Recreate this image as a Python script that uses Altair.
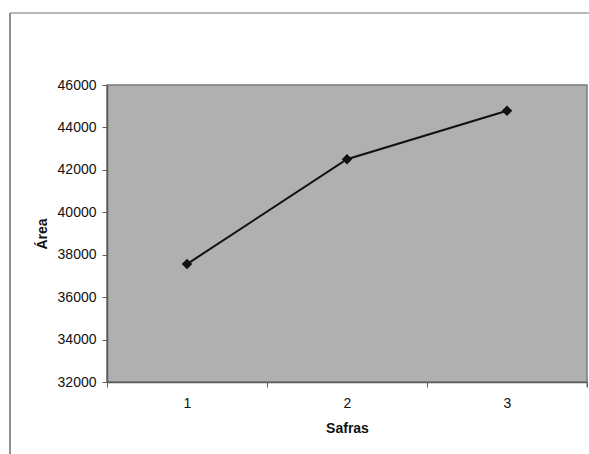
import altair as alt
import pandas as pd

safras = [1, 2, 3]
area = [37560, 42500, 44790]
x_tick_values = [0.5, 1, 1.5, 2, 2.5, 3, 3.5]
y_tick_values = [32000, 34000, 36000, 38000, 40000, 42000, 44000, 46000]

df = pd.DataFrame({"Safras": safras, "Area": area})

PLOT_L, PLOT_T = 107, 85
W, H = 480, 297

x_enc = alt.X(
    "Safras:Q",
    scale=alt.Scale(domain=[0.5, 3.5], nice=False, zero=False),
    axis=alt.Axis(
        values=x_tick_values,
        title="Safras",
        labelExpr="datum.value % 1 == 0 ? '' + datum.value : ''",
        tickOpacity={"condition": {"test": "datum.value % 1 == 0", "value": 0}, "value": 1},
        grid=False,
        tickSize=5,
        labelPadding=9,
        titlePadding=11,
    ),
)
y_enc = alt.Y(
    "Area:Q",
    scale=alt.Scale(domain=[32000, 46000], nice=False, zero=False),
    axis=alt.Axis(
        values=y_tick_values,
        format="d",
        title="Área",
        grid=False,
        tickSize=5,
        labelPadding=6,
        titlePadding=8,
    ),
)

line = alt.Chart(df).mark_line(color="#111111", strokeWidth=2).encode(x=x_enc, y=y_enc)
pts = alt.Chart(df).mark_point(shape="diamond", filled=True, color="#111111", size=110, opacity=1).encode(
    x="Safras:Q", y="Area:Q"
)

frame_df = pd.DataFrame({"k": [0]})
top_line = alt.Chart(frame_df).mark_rule(color="#a0a0a0", strokeWidth=1.5, clip=False).encode(
    x=alt.value(10 - PLOT_L), x2=alt.value(589 - PLOT_L), y=alt.value(13 - PLOT_T)
)
left_line = alt.Chart(frame_df).mark_rule(color="#6a6a6a", strokeWidth=1.5, clip=False).encode(
    x=alt.value(10 - PLOT_L), y=alt.value(13 - PLOT_T), y2=alt.value(454 - PLOT_T)
)
right_tick = alt.Chart(frame_df).mark_rule(color="#606060", strokeWidth=1, clip=False).encode(
    x=alt.value(W), y=alt.value(H), y2=alt.value(H + 5)
)

chart = (
    alt.layer(top_line, left_line, right_tick, line, pts)
    .properties(
        width=W,
        height=H,
        autosize=alt.AutoSizeParams(type="none"),
        padding={"left": PLOT_L, "top": PLOT_T, "right": 589 - PLOT_L - W, "bottom": 454 - PLOT_T - H},
        background="white",
    )
    .configure_view(fill="#b0b0b0", stroke="#7a7a7a", strokeWidth=1.5)
    .configure_axis(
        labelFont="Liberation Sans",
        titleFont="Liberation Sans",
        labelFontSize=14,
        titleFontSize=14,
        titleFontWeight="bold",
        labelColor="#111111",
        titleColor="#111111",
        domainColor="#5a5a5a",
        domainWidth=1.5,
        tickColor="#606060",
        tickWidth=1,
        labelOverlap=False,
    )
)

chart.save("out.html", embed_options={"renderer": "svg", "actions": False})
